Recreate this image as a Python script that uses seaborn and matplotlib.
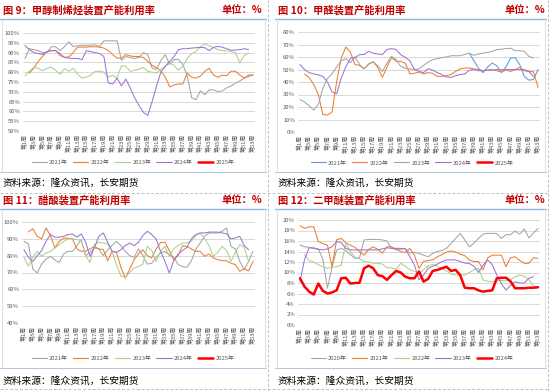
import numpy as np
import pandas as pd
import matplotlib
matplotlib.use("Agg")
import matplotlib.pyplot as plt
import seaborn as sns
from matplotlib.lines import Line2D

sns.set_style("white")
plt.rcParams['font.family'] = ['Noto Sans CJK SC', 'DejaVu Sans']

N = np.nan
weeks = list(range(1, 54))
tick_weeks = list(range(1, 54, 2))
tick_labels = [f"第{w}周" for w in tick_weeks]

# ---------------- Panel 9: 甲醇制烯烃 ----------------
p9_years = ["2021年", "2022年", "2023年", "2024年", "2025年"]
p9_2021 = [87, 92, 91.5, 91, 90, 90, 93, 93, 91, 93, 95.5, 93, 93.5, 93.7, 93.7, 93.8, 94, 93, 96, 96,
           96, 96, 86, 88, 87.5, 87, 87.5, 90, 89, 82, 81.5, 86, 89, 84, 86.5, 86.5, 84, 78, 67, 66,
           70.5, 68.5, 71, 71, 70, 70.5, 72, 73, 74.5, 75.5, 77, 77.8, 78.5]
p9_2022 = [N, 79.6, 82, 85.5, 88, 90.5, 91, 91, 88.5, 87.6, 87.8, 90, 92.8, 92.8, 92.8, 93, 93, 92.8, 92.3, 91,
           89, 87.2, 87.2, 89, 88.3, 88, 88, 87.5, 85.5, 83.5, 82.3, 80.5, 77.5, 72.5, 73.5, 74, 74, 79.5, 77.5, 77,
           78, 80.5, 82, 78.5, 77.4, 78.5, 78.2, 80.5, 80.5, 78.5, 77, 78.5, 78.7]
p9_2023 = [78.2, 80.5, 82.5, 82, 80.8, 82, 82.5, 81, 79, 81.8, 80.5, 82, 79, 77, 77.5, 78.5, 80.4, 80.5, 80, 77.5,
           78.5, 77, 83.3, 83, 80.4, 81, 81.5, 82.5, 80.5, 80, 79.6, 81.5, 83, 84.7, 83.5, 81, 83, 87, 89.5, 90.5,
           93, 94.4, 93.5, 92.5, 91.5, 91, 91, 90.5, 90, 84.7, 88.5, 89.8, N]
p9_2024 = [93.7, 91.5, 90, 89.5, 89, 90.5, 91, 91, 89.5, 87.5, 87.2, 87, 87, 86.4, 91, 90.5, 90, 89.5, 88, 74.5,
           74, 77, 73, 76.5, 72, 67, 63, 59.5, 58, 65, 73, 80, 83, 85.5, 88, 91.5, 92, 92, 92.3, 92.5,
           92.7, 92.5, 91, 92.7, 93.2, 92.7, 92, 91.2, 91.3, 91.5, 92, 91.5, N]
p9_2025 = [N] * 53

# ---------------- Panel 10: 甲醛 ----------------
p10_years = ["2021年", "2022年", "2023年", "2024年", "2025年"]
p10_2021 = [N] * 37 + [63, 57, 51, 47.5, 52, 55.2, 53, 47.5, 52, 59, 59.5, 54, 44.5, 41.5, 42, 49.9]
p10_2022 = [N, 46.4, 43.5, 38, 30, 14, 13.5, 16, 40, 59, 68, 64, 54, 53.3, 50.5, 54.5, 56.3, 51.5, 43.7, 52,
            59.7, 56.5, 56.5, 55, 46.5, 47, 48, 46.4, 47.5, 47, 44.5, 44.5, 45, 46, 48.5, 50.5, 51.2, 51.2, 50.5, 49.9,
            49.1, 49.5, 49.9, 49, 48, 49.5, 48.5, 50, 51.7, 49, 48.3, 48.3, 35.7]
p10_2023 = [26, 24, 21, 17.5, 22, 35, 43, 46.5, 52, 57, 58.7, 55.5, 60, 54, 50.7, 54, 56, 53, 48.5, 55,
            60.5, 58, 52.5, 51, 50.5, 50, 50.5, 53.3, 56, 57.9, 58.7, 59.5, 60, 61, 61, 61, 62, 63, 61.3, 62.5,
            63, 63.7, 64.5, 65.9, 66.2, 66.7, 67, 65.1, 65, 64.5, 60.5, 59.2, N]
p10_2024 = [54, 49.9, 47.5, 46.5, 45.7, 44.5, 40, 32, 30.5, 43, 52, 59, 59.5, 61.9, 62, 64.5, 63, 62.4, 62, 66,
            66.7, 66, 61.9, 59.7, 57, 50, 48.5, 47.5, 50.7, 49.5, 47.5, 45.9, 44, 43.7, 45, 46, 46.4, 49.5, 49.9, 49.1,
            49.1, 49.5, 49.5, 49.9, 49.9, 49.9, 49.9, 49.9, 49.9, 49.9, 48.5, 44.5, N]
p10_2025 = [N] * 53

# ---------------- Panel 11: 醋酸 ----------------
p11_years = ["2021年", "2022年", "2023年", "2024年", "2025年"]
p11_2021 = [88.5, 87, 72, 69.7, 75, 78, 79.5, 77.5, 76, 81, 82.6, 82.5, 86, 89.5, 80, 82, 84.6, 84, 80, 83.6,
            86, 88.5, 86, 82.6, 80, 79, 84, 80, 75, 75.5, 79, 81.6, 82.5, 80.6, 79, 74.7, 73.5, 73.1, 77, 83.6,
            87.5, 91.5, 93.5, 93.5, 93.5, 94.5, 96.4, 85.5, 84, 76.6, 71.7, 76.6, 82.6]
p11_2022 = [N, 94.1, 96, 91.5, 90, 96.5, 92, 84.6, 88.5, 90.5, 90.3, 90, 84, 82.6, 82.6, 84, 85.5, 84, 83.6, 77,
            82.6, 82, 73, 66.7, 72, 77.6, 81, 83.5, 80, 78.6, 84, 87.8, 88, 83, 77.6, 80, 86, 85.5, 84, 82.6,
            82.6, 79.6, 81, 78.6, 77.6, 77, 77, 75.5, 74.7, 70.7, 72.2, 71, 76.6]
p11_2023 = [79, 73.7, 79, 82.6, 79.6, 81.5, 82.6, 84.5, 86.5, 88.5, 90, 90.1, 89.5, 89, 80, 76, 86.5, 88, 87.5, 87,
            82.6, 74.7, 68, 67, 70, 72.7, 73.5, 75, 85.5, 83, 76.6, 82.6, 85.5, 79.6, 84, 86, 87.5, 87.5, 88.5, 92,
            93.5, 90, 86, 79.6, 82, 85.5, 83, 76.6, 82, 86.5, 85, 76.6, N]
p11_2024 = [83.6, 79, 76.6, 80, 83, 88.5, 92.5, 91, 91, 91.5, 92.5, 92.9, 91, 92.9, 88, 79.6, 85, 91.5, 93.5, 88,
            82.6, 82, 83.6, 86, 87.5, 86, 88, 92, 94.5, 92.5, 90, 82.6, 76.6, 69.7, 77, 81, 83, 85, 90, 92.5,
            93.5, 93.5, 94, 94, 94, 93.5, 93, 90, 90.5, 91.5, 86, 83.6, N]
p11_2025 = [N] * 53

# ---------------- Panel 12: 二甲醚 ----------------
p12_years = ["2020年", "2021年", "2022年", "2023年", "2024年"]
p12_2020 = [15.2, 14.9, 14.8, 14.7, 14.5, 12.5, 7, 11, 14.3, 14.6, 14.2, 13.4, 12.7, 12.8, 16.2, 16.3, 16.3, 16.3, 16.2, 16,
            14.6, 14.4, 14.4, 14.6, 13.7, 13.8, 13.65, 13.3, 13, 13.65, 14, 14.2, 14.6, 15.5, 16.5, 17.45, 16.2, 14.9, 15.6, 16.5,
            17.3, 17.45, 17.45, 17.4, 16.5, 17.2, 17.2, 17.9, 17.3, 18.3, 16.6, 17.5, 18.4]
p12_2021 = [18.9, 18.4, 18.7, 18.7, 15.9, 15.5, 15.2, 11.1, 16.2, 16.5, 15.7, 15.2, 14.8, 14, 13.3, 14.4, 14.9, 14.4, 13.7, 14.9,
            14.9, 14.4, 14, 13.8, 14.6, 13.3, 10.8, 12.1, 12.3, 12.4, 13, 13.4, 13.9, 14.1, 13.9, 13.5, 13.2, 12.4, 12.1, 12.1,
            10.5, 12.8, 13.3, 13.3, 13.3, 11.1, 12.8, 13, 12.3, 11.75, 11.75, 12.8, 12.7]
p12_2022 = [N, 13.45, 12.2, 12, 11.5, 11.1, 10.8, 11, 11.1, 11.4, 15.5, 14, 12.9, 12.6, 12.1, 12, 11.75, 11.75, 11.6, 10.9,
            10.9, 10.6, 11.75, 11.2, 10.5, 10.2, 9.8, 10.5, 11.3, 11.5, 11.2, 10.8, 10.3, 9.7, 9.5, 9.5, 9.5, 10, 10.5, 10.8,
            8.6, 8.3, 8.25, 8.4, 8.5, 8.4, 8.6, 9.2, 9.5, 9.3, 8.6, 7.5, 7]
p12_2023 = [8.2, 12.5, 14.7, 14.6, 14.4, 14.3, 14.5, 14.9, 15.9, 15.7, 14.6, 14.3, 14.3, 14.3, 14.3, 14.3, 14.3, 14.3, 14.5, 14.7,
            14.6, 14.6, 14.6, 14.5, 13, 11.4, 8.6, 9.5, 10.8, 11.2, 11.6, 12.05, 12.4, 12.4, 12.4, 12.1, 11.8, 11.7, 11.2, 10,
            11.4, 12.4, 11.5, 9.5, 7.9, 6.65, 7.5, 8.25, 8, 8, 8.9, 9.2, N]
p12_2024 = [8.9, 7.3, 6.35, 5.8, 7.9, 6.5, 6, 6.2, 6.6, 8.9, 9, 7.9, 8, 8.05, 10.8, 11.3, 10.8, 9.5, 9.3, 8.6,
            9.5, 10.3, 10, 9.2, 8.9, 8.9, 10.2, 8.25, 8.8, 10.3, 10.5, 10.8, 11.1, 10.3, 10.5, 9.5, 7.1, 7, 7, 6.6,
            6.35, 6.5, 6.6, 8.9, 9, 9, 8.3, 7, 7, 7, 7.1, 7.1, 7.2]

GREY, ORANGE, GREEN, PURPLE, BLUE, RED = "#a5a5a5", "#ed7d31", "#a9d18e", "#9e74d3", "#5b9bd5", "#ff0000"
TITLE_RED = "#c00000"

W, H = 550, 391
fig = plt.figure(figsize=(5.5, 3.91), dpi=100)


def frect(x0, x1, yt, yb):
    return [x0 / W, 1 - yb / H, (x1 - x0) / W, (yb - yt) / H]


def fx(x):
    return x / W


def fy(y):
    return 1 - y / H


def draw(rect, series, labels, colors, widths, ylim, ystep, legend_xy):
    ax = fig.add_axes(frect(*rect))
    for vals, lab, col, lw in zip(series, labels, colors, widths):
        df = pd.DataFrame({"week": weeks, "value": vals}).dropna()
        if len(df):
            sns.lineplot(data=df, x="week", y="value", ax=ax, color=col, linewidth=lw, legend=False)
    ax.set_xlim(0.5, 53.5)
    ax.set_ylim(*ylim)
    yt = np.arange(ylim[0], ylim[1] + 0.001, ystep)
    ax.set_yticks(yt)
    ax.set_yticklabels([f"{int(v)}%" for v in yt], fontsize=4.2, color="#595959")
    ax.set_xticks(tick_weeks)
    ax.set_xticklabels(tick_labels, rotation=90, fontsize=4.2, color="#595959")
    ax.tick_params(axis="both", length=0, pad=2)
    ax.set_xlabel("")
    ax.set_ylabel("")
    for s in ax.spines.values():
        s.set_visible(False)
    ax.yaxis.grid(True, color="#d9d9d9", linewidth=0.7)
    ax.xaxis.grid(False)
    ax.set_axisbelow(True)
    ax.patch.set_alpha(0)
    handles = [Line2D([0], [0], color=c, lw=0.8 if c != RED else 1.8) for c in colors]
    fig.legend(handles, labels, loc="center", bbox_to_anchor=(fx(legend_xy[0]), fy(legend_xy[1])),
               ncol=5, frameon=False, fontsize=4.2, handlelength=2.6, handletextpad=0.4,
               columnspacing=0.9, labelcolor="#595959")
    return ax


LW = 0.75
draw((22.8, 255.2, 33, 131), [p9_2021, p9_2022, p9_2023, p9_2024, p9_2025], p9_years,
     [GREY, ORANGE, GREEN, PURPLE, RED], [LW] * 5, (50, 100), 5, (133, 162))
draw((297.7, 540.3, 32, 132), [p10_2021, p10_2022, p10_2023, p10_2024, p10_2025], p10_years,
     [BLUE, ORANGE, GREY, PURPLE, RED], [LW] * 5, (0, 80), 10, (412, 163))
draw((21.8, 255.2, 222, 323), [p11_2021, p11_2022, p11_2023, p11_2024, p11_2025], p11_years,
     [GREY, ORANGE, GREEN, PURPLE, RED], [LW] * 5, (40, 100), 10, (133, 358))
draw((297.7, 540.3, 220, 325), [p12_2020, p12_2021, p12_2022, p12_2023, p12_2024], p12_years,
     [GREY, ORANGE, GREEN, PURPLE, RED], [LW, LW, LW, LW, 1.8], (0, 20), 2, (412, 358))

# titles, units, footers
panels = [
    (3, 262, 10, 19, 172, 183, 0, 266, "图 9：甲醇制烯烃装置产能利用率"),
    (278, 545, 10, 19, 172, 183, 275, 546, "图 10：甲醛装置产能利用率"),
    (3, 262, 200, 209, 368, 381, 0, 266, "图 11：醋酸装置产能利用率"),
    (278, 545, 200, 209, 368, 381, 275, 546, "图 12：二甲醚装置产能利用率"),
]
for xl, xr, yt, yl, yfl, yft, lx0, lx1, title in panels:
    fig.text(fx(xl), fy(yt), title, color=TITLE_RED, fontsize=7.4, fontweight="bold", ha="left", va="center")
    fig.text(fx(xr), fy(yt), "单位：%", color=TITLE_RED, fontsize=7.4, fontweight="bold", ha="right", va="center")
    fig.add_artist(Line2D([fx(lx0), fx(lx1)], [fy(yl), fy(yl)], color="#8eb4e3", lw=1.0))
    fig.add_artist(Line2D([fx(lx0), fx(lx1)], [fy(yfl), fy(yfl)], color="#b4c7dc", lw=0.8))
    fig.add_artist(Line2D([fx(lx1 - 1), fx(lx1 - 1)], [fy(yl), fy(yfl)], color="#d9d9d9", lw=0.6))
    fig.add_artist(Line2D([fx(lx0 + 2), fx(lx0 + 2)], [fy(yl), fy(yfl)], color="#d9d9d9", lw=0.6))
    fig.text(fx(xl), fy(yft), "资料来源：隆众资讯，长安期货", color="black", fontsize=7.0, ha="left", va="center")

# dashed separators
for x in (268, 548):
    fig.add_artist(Line2D([fx(x), fx(x)], [0, 1], color="#bfbfbf", lw=0.7, ls=(0, (3, 2))))
for y in (193, 389):
    fig.add_artist(Line2D([0, 1], [fy(y), fy(y)], color="#bfbfbf", lw=0.7, ls=(0, (3, 2))))

fig.savefig("out.png", dpi=100)
